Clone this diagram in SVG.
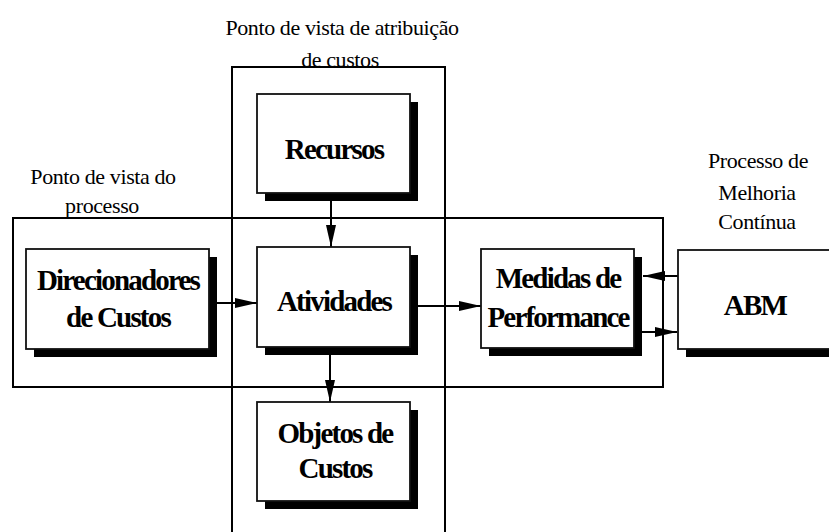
<svg xmlns="http://www.w3.org/2000/svg" width="829" height="532" viewBox="0 0 829 532">
<style>
.frame{fill:none;stroke:#000;stroke-width:2}
.box{fill:#fff;stroke:#111;stroke-width:1.8}
.shadow{fill:#000}
.lbl{font-family:"Liberation Serif","Times New Roman",serif;font-size:22px;letter-spacing:-0.4px;text-anchor:middle;fill:#000}
.nt{font-family:"Liberation Serif","Times New Roman",serif;font-size:29px;font-weight:bold;letter-spacing:-1.8px;text-anchor:middle;fill:#000}
.con{stroke:#000;stroke-width:2;fill:none;marker-end:url(#ah)}
</style>
<defs>
<marker id="ah" markerUnits="userSpaceOnUse" markerWidth="24" markerHeight="12" refX="22" refY="5" orient="auto">
<path d="M0,0 L22,5 L0,10 Z" fill="#000"/>
</marker>
</defs>
<rect width="829" height="532" fill="#fff"/>
<g id="frames">
<rect class="frame" x="232" y="67" width="213" height="500"/>
<rect class="frame" x="13" y="218" width="650" height="169"/>
</g>
<g id="labels">
<text class="lbl" x="342" y="35">Ponto de vista de atribuição</text>
<text class="lbl" x="340" y="67">de custos</text>
<text class="lbl" x="103" y="184">Ponto de vista do</text>
<text class="lbl" x="102" y="213">processo</text>
<text class="lbl" x="758" y="168">Processo de</text>
<text class="lbl" x="757" y="200">Melhoria</text>
<text class="lbl" x="757" y="229">Contínua</text>
</g>
<g id="connectors">
<line class="con" x1="331" y1="201" x2="331" y2="247"/>
<line class="con" x1="217" y1="303" x2="257" y2="303"/>
<line class="con" x1="418" y1="306" x2="481" y2="306"/>
<line class="con" x1="330" y1="355" x2="330" y2="402"/>
<line class="con" x1="678" y1="276" x2="643" y2="276"/>
<line class="con" x1="642" y1="332" x2="677" y2="332"/>
</g>
<g id="recursos">
<rect class="shadow" x="265" y="102" width="153" height="99"/>
<rect class="box" x="257" y="94" width="153" height="99"/>
<text class="nt" x="334" y="159">Recursos</text>
</g>
<g id="atividades">
<rect class="shadow" x="265" y="255" width="153" height="100"/>
<rect class="box" x="257" y="247" width="153" height="100"/>
<text class="nt" x="334" y="311">Atividades</text>
</g>
<g id="objetos">
<rect class="shadow" x="265" y="410" width="153" height="99"/>
<rect class="box" x="257" y="402" width="153" height="99"/>
<text class="nt" x="335" y="443">Objetos de</text>
<text class="nt" x="335" y="478">Custos</text>
</g>
<g id="direcionadores">
<rect class="shadow" x="34" y="257" width="183" height="100"/>
<rect class="box" x="26" y="249" width="183" height="100"/>
<text class="nt" x="118" y="290">Direcionadores</text>
<text class="nt" x="118" y="327">de Custos</text>
</g>
<g id="medidas">
<rect class="shadow" x="489" y="257" width="153" height="99"/>
<rect class="box" x="481" y="249" width="153" height="99"/>
<text class="nt" x="558" y="288">Medidas de</text>
<text class="nt" x="558" y="327">Performance</text>
</g>
<g id="abm">
<rect class="shadow" x="686" y="258" width="160" height="99"/>
<rect class="box" x="678" y="250" width="160" height="99"/>
<text class="nt" x="755" y="315">ABM</text>
</g>
</svg>
